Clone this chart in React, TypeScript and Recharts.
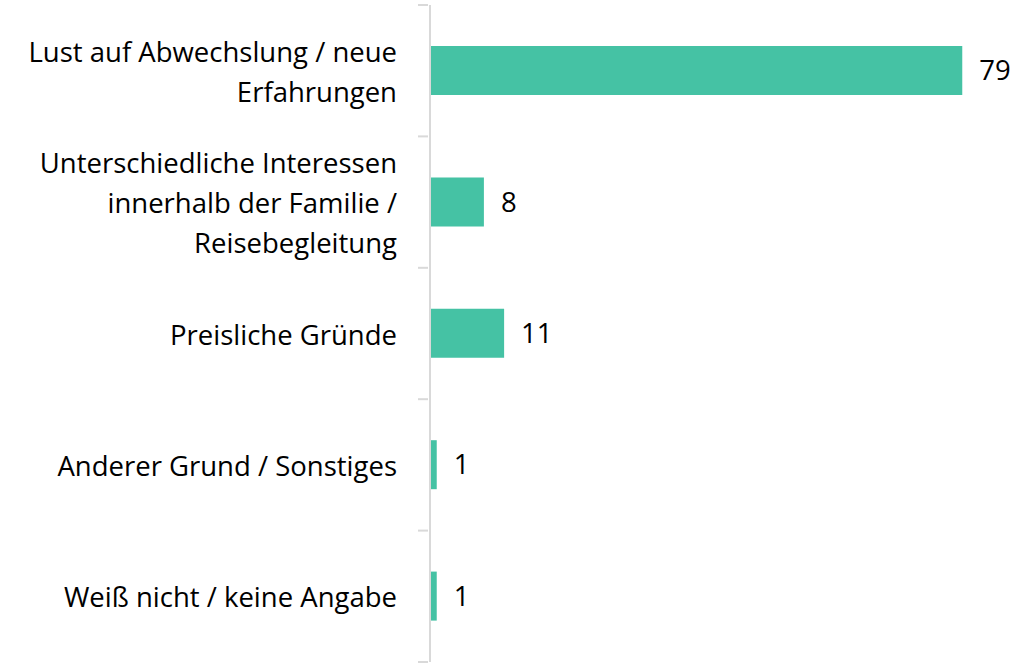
import { BarChart, Bar, XAxis, YAxis, LabelList } from 'recharts';

const categories = [
  'Lust auf Abwechslung / neue\nErfahrungen',
  'Unterschiedliche Interessen\ninnerhalb der Familie /\nReisebegleitung',
  'Preisliche Gründe',
  'Anderer Grund / Sonstiges',
  'Weiß nicht / keine Angabe',
];
const values = [79, 8, 11, 1, 1];

const data = categories.map((name, i) => ({ name, value: values[i] }));

const FONT = '"Open Sans", Carlito, Calibri, sans-serif';
const GRID = '#D9D9D9';
const BAR = '#45C2A4';

const CategoryTick = ({ x, y, payload, index, visibleTicksCount }: any) => {
  const lines: string[] = String(payload.value).split('\n');
  const half = payload.offset || 0;
  const lineH = 40;
  const startY = y - ((lines.length - 1) * lineH) / 2;
  const last = index === (visibleTicksCount ?? categories.length) - 1;
  return (
    <g>
      <line x1={x - 10} x2={x} y1={y - half} y2={y - half} stroke={GRID} strokeWidth={2} />
      {last && <line x1={x - 10} x2={x} y1={y + half} y2={y + half} stroke={GRID} strokeWidth={2} />}
      <text x={x - 31} y={startY} textAnchor="end" dominantBaseline="central" fontSize={27.5} fontFamily={FONT} fill="#000">
        {lines.map((l, i) => (
          <tspan key={i} x={x - 31} dy={i === 0 ? 0 : lineH}>{l}</tspan>
        ))}
      </text>
    </g>
  );
};

export default function App() {
  return (
    <div style={{ position: 'absolute', left: 0, top: 0, background: '#fff' }}>
      <BarChart
        width={1032}
        height={663}
        data={data}
        layout="vertical"
        margin={{ top: 5, right: 63, bottom: 1, left: 0 }}
      >
        <XAxis type="number" domain={[0, 80]} hide />
        <YAxis
          type="category"
          dataKey="name"
          width={430}
          axisLine={{ stroke: GRID, strokeWidth: 2 }}
          tickLine={false}
          tickSize={0}
          tick={<CategoryTick />}
          interval={0}
        />
        <Bar dataKey="value" fill={BAR} barSize={49} isAnimationActive={false}>
          <LabelList dataKey="value" position="right" offset={17} fontSize={27.5} fontFamily={FONT} fill="#000" />
        </Bar>
      </BarChart>
    </div>
  );
}
